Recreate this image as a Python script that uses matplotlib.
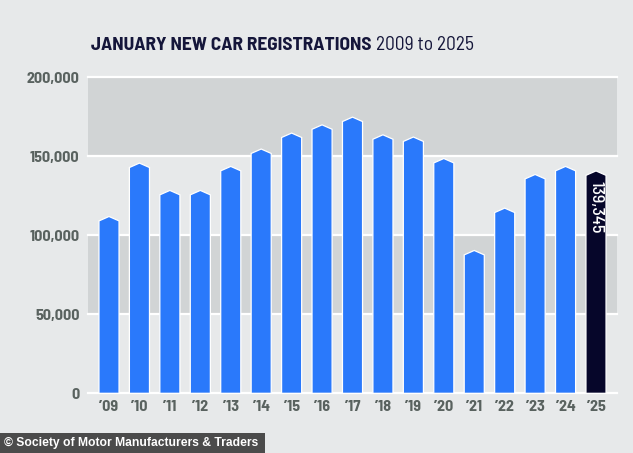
import matplotlib
matplotlib.use("Agg")
import matplotlib.pyplot as plt
from matplotlib.patches import Polygon, Rectangle
from matplotlib import font_manager

years = ["’09", "’10", "’11", "’12", "’13", "’14", "’15", "’16", "’17",
         "’18", "’19", "’20", "’21", "’22", "’23", "’24", "’25"]
values = [110500, 144300, 127000, 127000, 142200, 153200, 163300, 168500, 173400,
          162200, 160800, 147200, 89000, 115800, 137100, 142200, 139345]
yticks = [0, 50000, 100000, 150000, 200000]
ytick_labels = ["0", "50,000", "100,000", "150,000", "200,000"]
highlight_label = "139,345"

names = {f.name for f in font_manager.fontManager.ttflist}
narrow = "DejaVu Sans"
for cand in ["Barlow Semi Condensed", "Barlow Condensed", "Roboto Condensed",
             "Asap Condensed", "Archivo Narrow"]:
    if cand in names:
        narrow = cand
        break

BG = "#e7e9ea"
BAND = "#d1d4d5"
BLUE = "#2a79fb"
NAVY = "#06062a"
TICK = "#59625f"

fig = plt.figure(figsize=(6.33, 4.53), dpi=100)
fig.patch.set_facecolor(BG)
ax = fig.add_axes([88/633, (453-393.3)/453, 529/633, 316/453])
ax.set_facecolor(BG)
ax.set_xlim(-0.69, 16.69)
ax.set_ylim(0, 200000)

for lo, hi in [(50000, 100000), (150000, 200000)]:
    ax.axhspan(lo, hi, color=BAND, lw=0, zorder=0)
for y in yticks:
    ax.axhline(y, color="white", lw=1.6, zorder=1, clip_on=False)

w = 0.33
d = 1400
for i, v in enumerate(values):
    col = NAVY if i == len(values) - 1 else BLUE
    poly = Polygon([(i - w, 0), (i - w, v - d), (i, v + d), (i + w, v - d), (i + w, 0)],
                   closed=True, facecolor=col, edgecolor="white", lw=0.9, zorder=3,
                   joinstyle="miter")
    ax.add_patch(poly)

ax.text(len(values) - 1, values[-1] - 5000, highlight_label, rotation=-90,
        ha="center", va="top", color="white", fontsize=13, family=narrow,
        fontweight="medium", zorder=4)

for s in ax.spines.values():
    s.set_visible(False)
ax.set_xticks(range(len(years)))
ax.set_xticklabels(years, fontsize=11.5, fontweight="bold", color=TICK, family=narrow)
ax.set_yticks(yticks)
ax.set_yticklabels(ytick_labels, fontsize=11.5, fontweight="bold", color=TICK, family=narrow)
ax.tick_params(length=0, pad=6)
ax.tick_params(axis="x", pad=5)

t1 = fig.text(91/633, 1 - 45/453, "JANUARY NEW CAR REGISTRATIONS", fontsize=14,
              fontweight="bold", color="#15163a", family=narrow, va="center", ha="left")
fig.canvas.draw()
bb = t1.get_window_extent()
fig.text((bb.x1 + 4) / 633, 1 - 45/453, "2009 to 2025", fontsize=14,
         color="#15163a", family=narrow, va="center", ha="left")

fig.patches.append(Rectangle((0, 0), 265/633, 20/453, transform=fig.transFigure,
                             facecolor="#4b4b4b", edgecolor="none", zorder=5))
fig.text(4/633, 10/453, "© Society of Motor Manufacturers & Traders", fontsize=8.7,
         fontweight="bold", color="white", family="Liberation Sans", va="center",
         ha="left", zorder=6)

fig.savefig("out.png", dpi=100, facecolor=BG)
